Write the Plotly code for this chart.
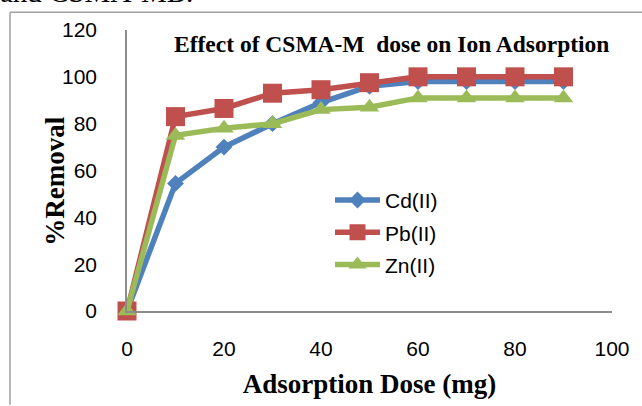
import plotly.graph_objects as go

dose = [0, 10, 20, 30, 40, 50, 60, 70, 80, 90]
cd = [0, 54.5, 70, 80, 89, 96, 98, 98, 98, 98]
pb = [0, 83, 86.5, 93, 94.5, 97.5, 100, 100, 100, 100]
zn = [0, 75, 78, 80, 86, 87, 91, 91, 91, 91]

series = [
    ("Cd(II)", cd, "#4F81BD", "diamond", 13),
    ("Pb(II)", pb, "#C0504D", "square", 19),
    ("Zn(II)", zn, "#9BBB59", "triangle-up", 17),
]

fig = go.Figure()
for name, vals, col, sym, sz in series:
    fig.add_trace(go.Scatter(
        x=dose, y=vals, name=name, mode="lines+markers",
        line=dict(color=col, width=5.5),
        marker=dict(symbol=sym, size=sz, color=col),
        legendgroup=name, cliponaxis=False,
    ))

W, H = 642, 406
L, R, T, B = 127, 30, 30, 91
pw, ph = W - L - R, H - T - B

def px(x):
    return (x - L) / pw

def py(y):
    return (H - B - y) / ph

tick_font = dict(family="Liberation Sans", size=21, color="black")

fig.update_layout(
    width=W, height=H,
    margin=dict(l=L, r=R, t=T, b=B),
    paper_bgcolor="white", plot_bgcolor="white",
    showlegend=True,
    legend=dict(x=px(330), y=py(182), xanchor="left", yanchor="top",
                font=dict(family="Liberation Sans", size=21, color="black"),
                tracegroupgap=2, bgcolor="rgba(0,0,0,0)", itemwidth=45),
    xaxis=dict(range=[0, 100], tickvals=[0, 20, 40, 60, 80, 100],
               showgrid=False, zeroline=False, showline=True,
               linecolor="#8c8c8c", linewidth=1.5, ticks="",
               ticklabelstandoff=18,
               tickfont=tick_font,
               title=dict(text="<b>Adsorption Dose (mg)</b>", standoff=15,
                          font=dict(family="Liberation Serif", size=27, color="black"))),
    yaxis=dict(range=[0, 120], tickvals=[0, 20, 40, 60, 80, 100, 120],
               showgrid=False, zeroline=False, showline=True,
               linecolor="#8c8c8c", linewidth=1.5,
               ticks="outside", ticklen=24, tickcolor="rgba(0,0,0,0)",
               tickfont=tick_font),
    annotations=[
        dict(text="<b>%Removal</b>", textangle=-90,
             x=px(55), y=py(184), xref="paper", yref="paper",
             xanchor="center", yanchor="middle", showarrow=False,
             font=dict(family="Liberation Serif", size=27, color="black")),
        dict(text="<b>Effect of CSMA-M  dose on Ion Adsorption</b>",
             x=px(391), y=py(44), xref="paper", yref="paper",
             xanchor="center", yanchor="middle", showarrow=False,
             font=dict(family="Liberation Serif", size=23.5, color="black")),
        dict(text="and CSMA-MB.",
             x=px(-2), y=py(10), xref="paper", yref="paper",
             xanchor="left", yanchor="bottom", showarrow=False,
             font=dict(family="Liberation Serif", size=29, color="black")),
    ],
    shapes=[
        dict(type="line", xref="paper", yref="paper",
             x0=px(10), x1=px(645), y0=py(12), y1=py(12),
             line=dict(color="#a0a0a0", width=1.5)),
        dict(type="line", xref="paper", yref="paper",
             x0=px(10), x1=px(10), y0=py(12), y1=py(410),
             line=dict(color="#a0a0a0", width=1.5)),
    ],
)

fig.write_html("out.html")
